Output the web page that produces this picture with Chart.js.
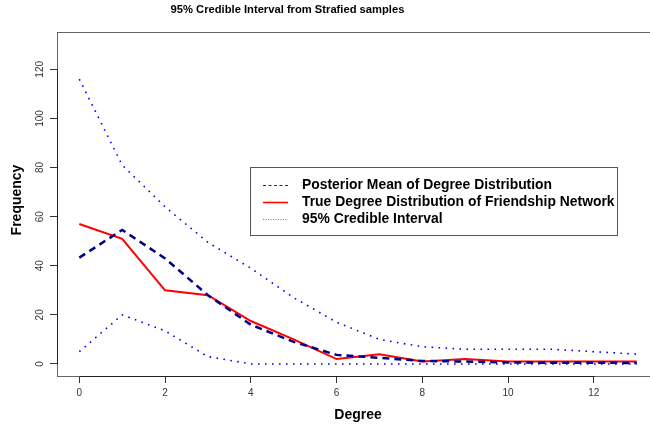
<!DOCTYPE html>
<html><head><meta charset="utf-8">
<script src="https://cdn.jsdelivr.net/npm/chart.js@4"></script>
<style>
html,body{margin:0;padding:0;background:#fff;overflow:hidden;width:650px;height:425px}
#wrap{position:relative;width:670px;height:425px}
</style></head>
<body><div id="wrap"><canvas id="c" width="670" height="425"></canvas></div>
<script>
const chartTitle = '95% Credible Interval from Strafied samples';
const xTitle = 'Degree';
const yTitle = 'Frequency';
const degrees = [0,1,2,3,4,5,6,7,8,9,10,11,12,13];
const posteriorMean = [43.3,54.6,43,28,16,9,3.7,2.5,1.2,1,0.6,0.5,0.5,0.4];
const trueDist = [57,51,30,28,17.5,10,2,4,1,2,1,1,1,1];
const upperCI = [116,81,64,49.5,39,27,17,10,7,6,6,6,5,4];
const lowerCI = [5,20,13.5,3,0,0,0,0,0,0,0,0,0,0];
const xTicks = [0,2,4,6,8,10,12];
const yTicks = [0,20,40,60,80,100,120];
const legendLabels = ['Posterior Mean of Degree Distribution','True Degree Distribution of Friendship Network','95% Credible Interval'];

const pts = arr => degrees.map((d,i)=>({x:d,y:arr[i]}));
const FONT = "'Liberation Sans', Arial, Helvetica, sans-serif";

const custom = {
  id:'custom',
  afterDraw(chart){
    const c = chart.ctx, a = chart.chartArea;
    const xs = chart.scales.x, ys = chart.scales.y;
    c.save();
    c.strokeStyle = '#666'; c.lineWidth = 1;
    c.strokeRect(a.left+0.5, a.top+0.5, a.right-a.left, a.bottom-a.top);
    c.strokeStyle = '#222';
    c.beginPath();
    c.moveTo(Math.round(xs.getPixelForValue(xTicks[0]))+0.5, a.bottom+0.5);
    c.lineTo(Math.round(xs.getPixelForValue(xTicks[xTicks.length-1]))+0.5, a.bottom+0.5);
    c.moveTo(a.left+0.5, Math.round(ys.getPixelForValue(yTicks[0]))+0.5);
    c.lineTo(a.left+0.5, Math.round(ys.getPixelForValue(yTicks[yTicks.length-1]))+0.5);
    c.stroke();
    c.fillStyle = '#333';
    c.font = '10px ' + FONT;
    c.textAlign = 'center'; c.textBaseline = 'middle';
    yTicks.forEach(v=>{
      const y = ys.getPixelForValue(v);
      c.save(); c.translate(40, y); c.rotate(-Math.PI/2); c.fillText(String(v),0,0); c.restore();
    });
    c.fillStyle = '#000';
    c.font = 'bold 14px ' + FONT;
    c.fillText(xTitle, (a.left+a.right)/2, 415);
    c.save(); c.translate(17, 200); c.rotate(-Math.PI/2); c.fillText(yTitle,0,0); c.restore();
    c.font = 'bold 11.2px ' + FONT;
    c.fillText(chartTitle, 287.5, 9.5);
    c.strokeStyle = '#555'; c.lineWidth = 1;
    c.strokeRect(250.5, 167.5, 367, 68);
    const rows = [185, 202, 219];
    const styles = [
      {color:'#1a1acc', dash:[3,2.5], w:1.2},
      {color:'#ff0000', dash:[], w:1.5},
      {color:'#6a6aff', dash:[1,1.5], w:1}
    ];
    rows.forEach((y,i)=>{
      const s = styles[i];
      c.strokeStyle = s.color; c.lineWidth = s.w; c.setLineDash(s.dash);
      c.beginPath(); c.moveTo(263, y+0.5); c.lineTo(288, y+0.5); c.stroke();
    });
    c.setLineDash([]);
    c.fillStyle = '#000';
    c.font = 'bold 13.9px ' + FONT;
    c.textAlign = 'left';
    rows.forEach((y,i)=>c.fillText(legendLabels[i], 302, y+0.5));
    c.restore();
  }
};

new Chart(document.getElementById('c'), {
  type:'line',
  data:{datasets:[
    {label:legendLabels[0], data:pts(posteriorMean), borderColor:'#00008B', borderWidth:2.5, borderDash:[7,5], pointRadius:0, fill:false, tension:0},
    {label:legendLabels[1], data:pts(trueDist), borderColor:'#ff0000', borderWidth:2, pointRadius:0, fill:false, tension:0},
    {label:legendLabels[2], data:pts(upperCI), borderColor:'#0000ff', borderWidth:1.6, borderDash:[1.6,5.4], pointRadius:0, fill:false, tension:0},
    {label:legendLabels[2]+' lower', data:pts(lowerCI), borderColor:'#0000ff', borderWidth:1.6, borderDash:[1.6,5.4], pointRadius:0, fill:false, tension:0}
  ]},
  options:{
    responsive:false, animation:false, devicePixelRatio:1,
    layout:{padding:{top:32,right:11,left:0,bottom:0}},
    plugins:{legend:{display:false}, title:{display:false}, tooltip:{enabled:false}},
    scales:{
      x:{type:'linear', min:-0.52, max:13.52,
        afterBuildTicks:s=>{s.ticks = xTicks.map(v=>({value:v}));},
        afterFit:s=>{s.height = 49;},
        grid:{drawOnChartArea:false, drawTicks:true, tickLength:7, color:'#333'},
        border:{display:false},
        ticks:{font:{family:FONT,size:10}, color:'#333', padding:4, maxRotation:0, minRotation:0, autoSkip:false}
      },
      y:{type:'linear', min:-4.9, max:135.2,
        afterBuildTicks:s=>{s.ticks = yTicks.map(v=>({value:v}));},
        afterFit:s=>{s.width = 57;},
        grid:{drawOnChartArea:false, drawTicks:true, tickLength:7, color:'#333'},
        border:{display:false},
        ticks:{font:{family:FONT,size:10}, color:'rgba(0,0,0,0)', padding:4}
      }
    }
  },
  plugins:[custom]
});
</script>
</body></html>
